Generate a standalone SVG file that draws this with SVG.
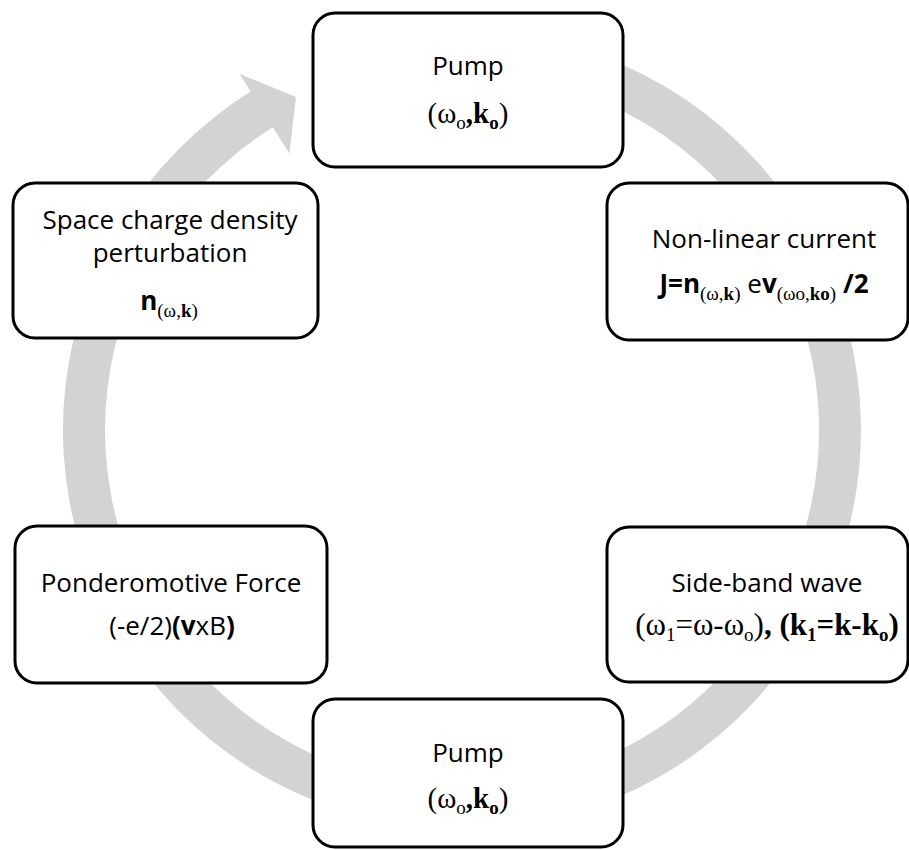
<svg xmlns="http://www.w3.org/2000/svg" width="909" height="850" viewBox="0 0 909 850">
<style>
.box{fill:#fff;stroke:#000;stroke-width:3}
.sans{font-family:"Open Sans","Noto Sans","Liberation Sans",sans-serif;font-size:26px;fill:#000;text-anchor:middle}
.serif{font-family:"Liberation Serif","Times New Roman",serif;font-size:29px;fill:#000;text-anchor:middle}
.ss{font-family:"Liberation Serif","Times New Roman",serif;font-size:19px}
.sub{font-size:19px}
.b{font-weight:bold}
.ring{fill:#d3d3d3;stroke:none}
</style>
<rect width="909" height="850" fill="#fff"/>
<g id="connectors">
<path class="ring" d="M462,31 A399,399 0 1 1 250.6,91.6 L239.4,73.8 L296,97.1 L289.3,153.6 L272.8,127.3 A357,357 0 1 0 462,73 Z"/>
</g>
<g id="pump-top">
<rect class="box" x="313" y="13" width="310" height="154" rx="22"/>
<text class="sans" x="468" y="75">Pump</text>
<text class="serif" x="468" y="123">(ω<tspan class="sub" dy="6">o</tspan><tspan class="b" dy="-6">,k</tspan><tspan class="sub b" dy="6">o</tspan><tspan dy="-6">)</tspan></text>
</g>
<g id="nonlinear-current">
<rect class="box" x="607" y="183" width="301" height="157" rx="22"/>
<text class="sans" x="764" y="248">Non-linear current</text>
<text class="sans" x="764" y="293"><tspan class="b">J=n</tspan><tspan class="ss" dy="7">(ω,<tspan class="b">k</tspan>)</tspan><tspan dy="-7"> e</tspan><tspan class="b">v</tspan><tspan class="ss" dy="7">(ωo,<tspan class="b">ko</tspan>)</tspan><tspan class="b" dy="-7"> /2</tspan></text>
</g>
<g id="space-charge">
<rect class="box" x="13" y="183" width="305" height="155" rx="22"/>
<text class="sans" x="170" y="229">Space charge density</text>
<text class="sans" x="170" y="262">perturbation</text>
<text class="sans" x="169" y="310"><tspan class="b">n</tspan><tspan class="ss" dy="7">(ω,<tspan class="b">k</tspan>)</tspan></text>
</g>
<g id="ponderomotive">
<rect class="box" x="15" y="526" width="312" height="157" rx="22"/>
<text class="sans" x="171" y="592">Ponderomotive Force</text>
<text class="sans" x="172" y="635">(-e/2)<tspan class="b">(v</tspan>xB<tspan class="b">)</tspan></text>
</g>
<g id="side-band">
<rect class="box" x="607" y="527" width="301" height="155" rx="22"/>
<text class="sans" x="767" y="592">Side-band wave</text>
<text class="serif" x="767" y="635" style="font-size:31px">(ω<tspan class="sub" dy="6">1</tspan><tspan dy="-6">=ω-ω</tspan><tspan class="sub" dy="6">o</tspan><tspan dy="-6">)</tspan><tspan class="b">, (k</tspan><tspan class="sub b" dy="6">1</tspan><tspan class="b" dy="-6">=k-k</tspan><tspan class="sub b" dy="6">o</tspan><tspan class="b" dy="-6">)</tspan></text>
</g>
<g id="pump-bottom">
<rect class="box" x="313" y="699" width="310" height="148" rx="22"/>
<text class="sans" x="468" y="762">Pump</text>
<text class="serif" x="468" y="808">(ω<tspan class="sub" dy="6">o</tspan><tspan class="b" dy="-6">,k</tspan><tspan class="sub b" dy="6">o</tspan><tspan dy="-6">)</tspan></text>
</g>
</svg>
